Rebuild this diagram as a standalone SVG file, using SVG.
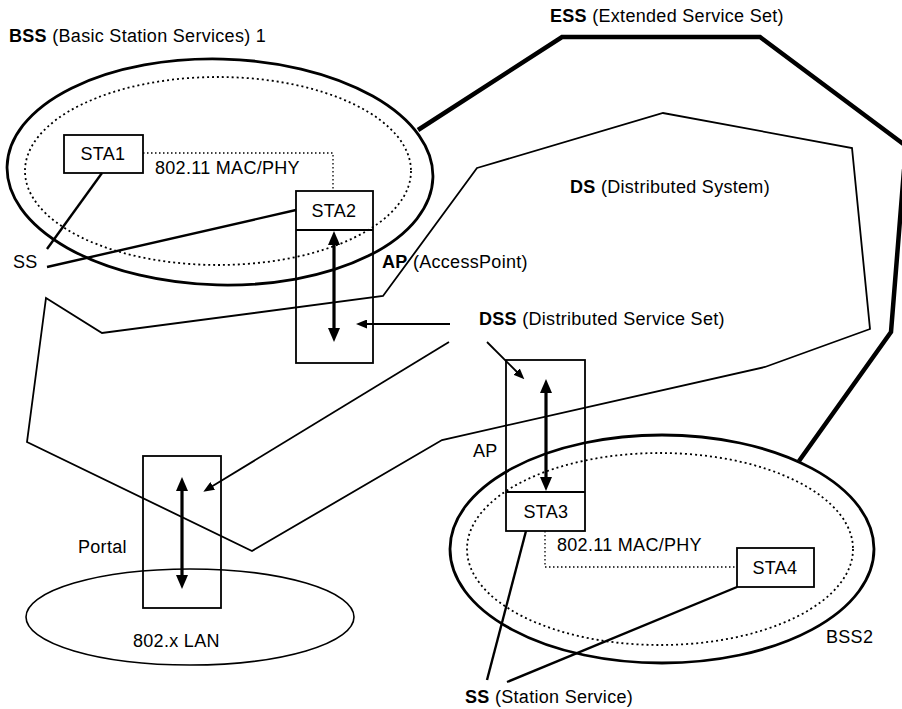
<svg xmlns="http://www.w3.org/2000/svg" width="902" height="709" viewBox="0 0 902 709">
<style>
text{font-family:"Liberation Sans",Arial,sans-serif;font-size:18px;letter-spacing:0.3px;fill:#000}
.b{font-weight:bold}
.box{fill:none;stroke:#000;stroke-width:1.8}
.outer{fill:none;stroke:#000;stroke-width:2.8}
.inner{fill:none;stroke:#000;stroke-width:1.8;stroke-dasharray:2 3}
.ess{fill:none;stroke:#000;stroke-width:4.5;stroke-linejoin:miter}
.ds{fill:none;stroke:#000;stroke-width:1.8}
.ss{fill:none;stroke:#000;stroke-width:2.4}
.dbl{fill:none;stroke:#000;stroke-width:3.2;marker-start:url(#big);marker-end:url(#big)}
.ptr{fill:none;stroke:#000;stroke-width:1.8;marker-end:url(#small)}
.mac{fill:none;stroke:#000;stroke-width:1.3;stroke-dasharray:1.5 2.5}
</style>
<defs>
<marker id="big" viewBox="0 0 14 12" markerWidth="14" markerHeight="12" refX="3" refY="6" orient="auto-start-reverse" markerUnits="userSpaceOnUse">
<path d="M0,0 L14,6 L0,12 z" fill="#000"/>
</marker>
<marker id="small" viewBox="0 0 11 9" markerWidth="11" markerHeight="9" refX="2" refY="4.5" orient="auto" markerUnits="userSpaceOnUse">
<path d="M0,0 L11,4.5 L0,9 z" fill="#000"/>
</marker>
</defs>

<g id="ess">
<polyline class="ess" points="418,130 562,37 760,37 910,149 904,170 891,332 799,461"/>
<text x="550" y="22"><tspan class="b">ESS</tspan> (Extended Service Set)</text>
</g>

<g id="ds">
<polygon class="ds" points="477,168 663,113 852,148 870,329 765,367 442,440 252,551 27,442 46,298 102,333 383,296"/>
<text x="570" y="193"><tspan class="b">DS</tspan> (Distributed System)</text>
</g>

<g id="bss1">
<ellipse class="outer" cx="220" cy="172" rx="213" ry="113" transform="rotate(1.5 220 172)"/>
<ellipse class="inner" cx="218" cy="171" rx="193" ry="94"/>
<text x="9" y="42"><tspan class="b">BSS</tspan> (Basic Station Services) 1</text>
<text x="155" y="174">802.11 MAC/PHY</text>
</g>

<g id="bss2">
<ellipse class="outer" cx="662" cy="549" rx="212" ry="114"/>
<ellipse class="inner" cx="660" cy="549" rx="193" ry="96"/>
<text x="557" y="551">802.11 MAC/PHY</text>
<text x="826" y="643">BSS2</text>
</g>

<g id="lan">
<ellipse fill="none" stroke="#000" stroke-width="1.6" cx="190" cy="617" rx="164" ry="48"/>
<text x="133" y="647">802.x LAN</text>
</g>

<g id="sta1">
<rect class="box" x="64" y="135" width="79" height="38"/>
<text x="103" y="160" text-anchor="middle">STA1</text>
</g>

<g id="ap1">
<rect class="box" x="296" y="191" width="77" height="172"/>
<line x1="296" y1="230" x2="373" y2="230" stroke="#000" stroke-width="2"/>
<text x="334" y="217" text-anchor="middle">STA2</text>
<text x="382" y="268"><tspan class="b">AP</tspan> (AccessPoint)</text>
</g>

<g id="ap2">
<rect class="box" x="506" y="360" width="79" height="171"/>
<line x1="506" y1="492" x2="585" y2="492" stroke="#000" stroke-width="2"/>
<text x="546" y="518" text-anchor="middle">STA3</text>
<text x="473" y="457">AP</text>
</g>

<g id="sta4">
<rect class="box" x="737" y="548" width="77" height="39"/>
<text x="775" y="574" text-anchor="middle">STA4</text>
</g>

<g id="portal">
<rect class="box" x="143" y="456" width="78" height="152"/>
<text x="78" y="553">Portal</text>
</g>

<g id="labels">
<text x="13" y="268">SS</text>
<text x="479" y="325"><tspan class="b">DSS</tspan> (Distributed Service Set)</text>
<text x="465" y="703"><tspan class="b">SS</tspan> (Station Service)</text>
</g>

<g id="connectors">
<polyline class="mac" points="143,153 333,153 333,191"/>
<polyline class="mac" points="545,531 545,567 737,567"/>
<line class="ss" x1="102" y1="173" x2="47" y2="249"/>
<line class="ss" x1="296" y1="210" x2="47" y2="267"/>
<line class="ss" x1="526" y1="531" x2="487" y2="680"/>
<line class="ss" x1="737" y1="587" x2="507" y2="682"/>
<line class="dbl" x1="334" y1="242" x2="334" y2="331"/>
<line class="dbl" x1="546" y1="390" x2="546" y2="480"/>
<line class="dbl" x1="182" y1="488" x2="182" y2="578"/>
<line class="ptr" x1="450" y1="324" x2="365" y2="324"/>
<line class="ptr" x1="449" y1="342" x2="211" y2="487"/>
<line class="ptr" x1="487" y1="342" x2="518" y2="373"/>
</g>
</svg>
